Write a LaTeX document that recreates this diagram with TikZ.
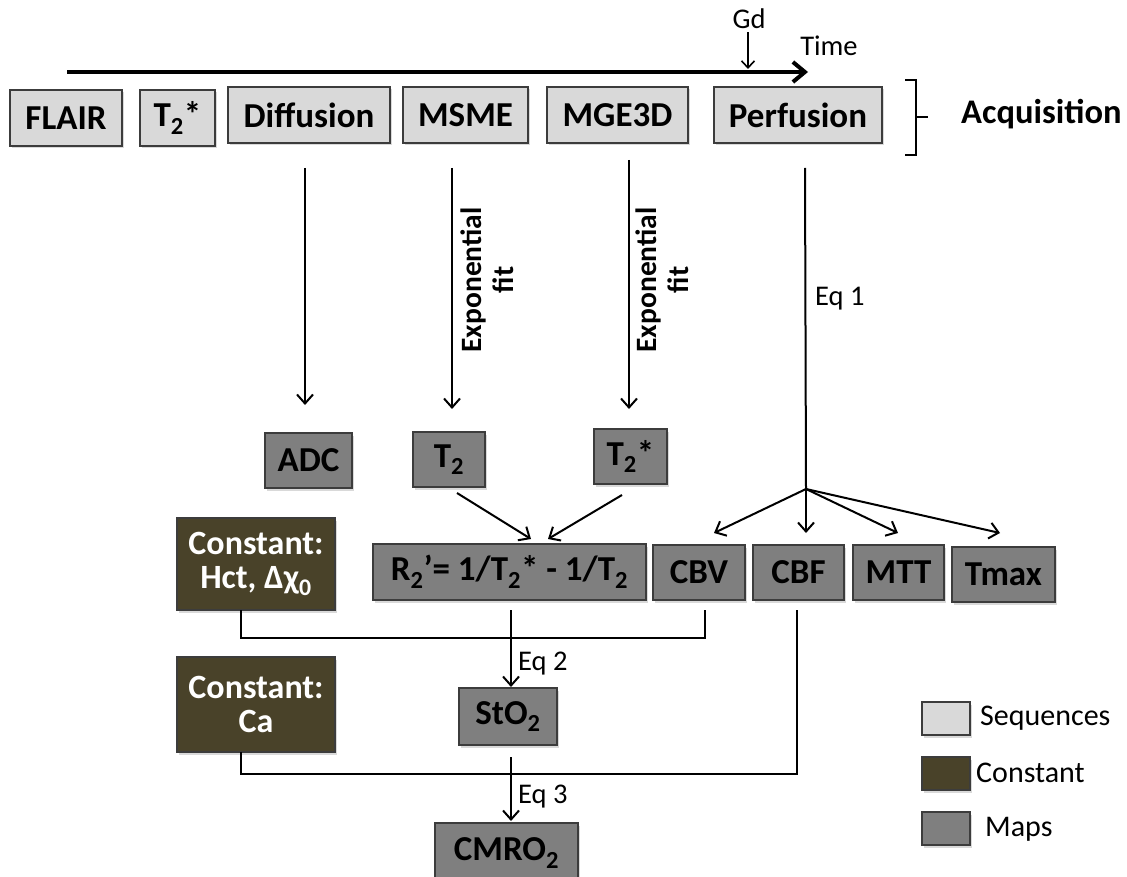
\documentclass[tikz,border=0pt]{standalone}
\usepackage{fontspec}
\setmainfont{Carlito}
\usetikzlibrary{shadows,arrows.meta,calc}
\definecolor{seqgray}{RGB}{217,217,217}
\definecolor{mapgray}{RGB}{127,127,127}
\definecolor{constcol}{RGB}{73,66,41}
\definecolor{edgegray}{RGB}{60,60,60}
\newcommand{\bigfont}{\bfseries\fontsize{35}{38}\selectfont}
\newcommand{\cstfont}{\bfseries\fontsize{34}{34}\selectfont}
\newcommand{\lblfont}{\fontsize{28.5}{31}\selectfont}
\begin{document}
\begin{tikzpicture}[x=1pt,y=-1pt,
  box/.style={draw=edgegray, line width=1.3pt, font=\bigfont, inner sep=0pt,
    drop shadow={opacity=0.3, shadow xshift=2pt, shadow yshift=-2.5pt}},
  seq/.style={box, fill=seqgray},
  map/.style={box, fill=mapgray},
  cst/.style={box, fill=constcol, text=white, align=center, font=\cstfont},
  lgd/.style={draw=edgegray, line width=1.3pt, minimum width=48pt, minimum height=33pt,
    drop shadow={opacity=0.3, shadow xshift=2pt, shadow yshift=-2.5pt}},
  conn/.style={line width=2pt, draw=black},
  arr/.style={conn, -{Straight Barb[length=9pt,width=16pt,line width=2pt]}},
  lbl/.style={font=\lblfont, inner sep=0pt},
  fitlbl/.style={font=\bfseries\fontsize{29.5}{32}\selectfont, rotate=90, align=center, inner sep=0pt}
]
\useasboundingbox (0,0) rectangle (1127,877);

% ---- sequences ----
\node[seq, minimum width=112pt, minimum height=56pt] (flair) at (66,118) {FLAIR};
\node[seq, minimum width=75pt, minimum height=56pt] (t2sq) at (177.5,118) {T\textsubscript{2}*};
\node[seq, minimum width=162pt, minimum height=56pt] (diff) at (309,115) {Diffusion};
\node[seq, minimum width=125pt, minimum height=56pt] (msme) at (465.5,115) {MSME};
\node[seq, minimum width=141pt, minimum height=56pt] (mge) at (617.5,115) {MGE3D};
\node[seq, minimum width=168pt, minimum height=56pt] (perf) at (798,115) {Perfusion};

% ---- time axis ----
\coordinate (tstart) at (67,72);
\coordinate (tend) at (808,72);
\draw[line width=4pt, -{Straight Barb[length=12pt,width=20pt,line width=4pt]}] (tstart) -- (tend);
\node[lbl] (time) at (829,46) {Time};
\node[lbl] (gd) at (749,19) {Gd};
\coordinate (gdtip) at (748,69);
\draw[line width=1.6pt, -{Straight Barb[length=7pt,width=13pt,line width=1.6pt]}] (gd.south -| gdtip) ++(0,3) -- (gdtip);

% ---- acquisition bracket ----
\coordinate (br1) at (905,80);
\coordinate (br2) at (916,80);
\coordinate (br3) at (916,117);
\coordinate (br4) at (928,117);
\coordinate (br5) at (916,155);
\coordinate (br6) at (905,155);
\draw[line width=2pt] (br1) -- (br2) -- (br5) -- (br6);
\draw[line width=2pt] (br3) -- (br4);
\node[font=\bfseries\fontsize{34.5}{36}\selectfont, anchor=west, inner sep=0pt] (acq) at (961,114) {Acquisition};

% ---- maps ----
\node[map, minimum width=87pt, minimum height=55pt] (adc) at (308.5,460.5) {ADC};
\node[map, minimum width=72pt, minimum height=55pt] (t2) at (449,459.5) {T\textsubscript{2}};
\node[map, minimum width=73pt, minimum height=55pt] (t2s) at (630.5,456.5) {T\textsubscript{2}*};
\node[map, minimum width=273pt, minimum height=56pt] (r2) at (509.5,572) {R\textsubscript{2}’= 1/T\textsubscript{2}* - 1/T\textsubscript{2}};
\node[map, minimum width=92pt, minimum height=55pt] (cbv) at (699,572.5) {CBV};
\node[map, minimum width=91pt, minimum height=55pt] (cbf) at (798.5,572.5) {CBF};
\node[map, minimum width=91pt, minimum height=55pt] (mtt) at (898.5,572.5) {MTT};
\node[map, minimum width=103pt, minimum height=55pt] (tmax) at (1003.5,574.5) {Tmax};
\node[map, minimum width=98pt, minimum height=57pt] (sto2) at (508,716.5) {StO\textsubscript{2}};
\node[map, minimum width=143pt, minimum height=60pt] (cmro2) at (506.5,853) {CMRO\textsubscript{2}};

% ---- constants ----
\node[cst, minimum width=158pt, minimum height=92pt] (hct) at (256,564) {Constant:\\Hct, Δχ\textsubscript{0}};
\node[cst, minimum width=158pt, minimum height=95pt] (ca) at (256,704.5) {Constant:\\Ca};

% ---- vertical arrows from sequences ----
\coordinate (diffS) at (305,168);
\coordinate (diffE) at (305,405);
\draw[arr] (diffS) -- (diffE);
\coordinate (msmeS) at (452,168);
\coordinate (msmeE) at (452,409);
\draw[arr] (msmeS) -- (msmeE);
\node[fitlbl] (fit1) at (487,280) {Exponential\\fit};
\coordinate (mgeS) at (629,160);
\coordinate (mgeE) at (629,409);
\draw[arr] (mgeS) -- (mgeE);
\node[fitlbl] (fit2) at (662,280) {Exponential\\fit};

% ---- perfusion branch ----
\coordinate (perfS) at (805,168);
\coordinate (branch) at (806,489);
\draw[conn] (perfS) -- (branch);
\node[lbl, anchor=west] (eq1) at (815,299) {Eq 1};
\coordinate (cbvT) at (714,533);
\coordinate (cbfT) at (806,533);
\coordinate (mttT) at (898,533);
\coordinate (tmaxT) at (1000,533);
\draw[arr] (branch) -- (cbvT);
\draw[arr] (branch) -- (cbfT);
\draw[arr] (branch) -- (mttT);
\draw[arr] (branch) -- (tmaxT);

% ---- into R2' ----
\coordinate (t2a) at (457,493);
\coordinate (r2a) at (531,539);
\coordinate (t2sa) at (622,495);
\coordinate (r2b) at (548,539);
\draw[arr] (t2a) -- (r2a);
\draw[arr] (t2sa) -- (r2b);

% ---- Hct / CBV join, Eq 2 ----
\coordinate (hctS) at (241,610);
\coordinate (hctJ) at (241,638);
\coordinate (cbvJ) at (705,638);
\coordinate (cbvS) at (705,610);
\draw[conn] (hctS) -- (hctJ) -- (cbvJ) -- (cbvS);
\coordinate (r2S) at (511,610);
\coordinate (sto2T) at (511,687);
\draw[arr] (r2S) -- (sto2T);
\node[lbl, anchor=west] (eq2) at (518,664) {Eq 2};

% ---- Ca / CBF join, Eq 3 ----
\coordinate (caS) at (241,752);
\coordinate (caJ) at (241,774);
\coordinate (cbfJ) at (797,774);
\coordinate (cbfS) at (797,610);
\draw[conn] (caS) -- (caJ) -- (cbfJ) -- (cbfS);
\coordinate (sto2S) at (511,757);
\coordinate (cmroT) at (511,821);
\draw[arr] (sto2S) -- (cmroT);
\node[lbl, anchor=west] (eq3) at (518,797) {Eq 3};

% ---- legend ----
\node[lgd, fill=seqgray] (lseq) at (946,718.5) {};
\node[lgd, fill=constcol] (lcst) at (946,773.5) {};
\node[lgd, fill=mapgray] (lmap) at (946,828.5) {};
\node[font=\fontsize{30}{32}\selectfont, anchor=west, inner sep=0pt] (tseq) at (980,718) {Sequences};
\node[font=\fontsize{30}{32}\selectfont, anchor=west, inner sep=0pt] (tcst) at (976,773) {Constant};
\node[font=\fontsize{30}{32}\selectfont, anchor=west, inner sep=0pt] (tmap) at (985,829) {Maps};
\end{tikzpicture}
\end{document}
